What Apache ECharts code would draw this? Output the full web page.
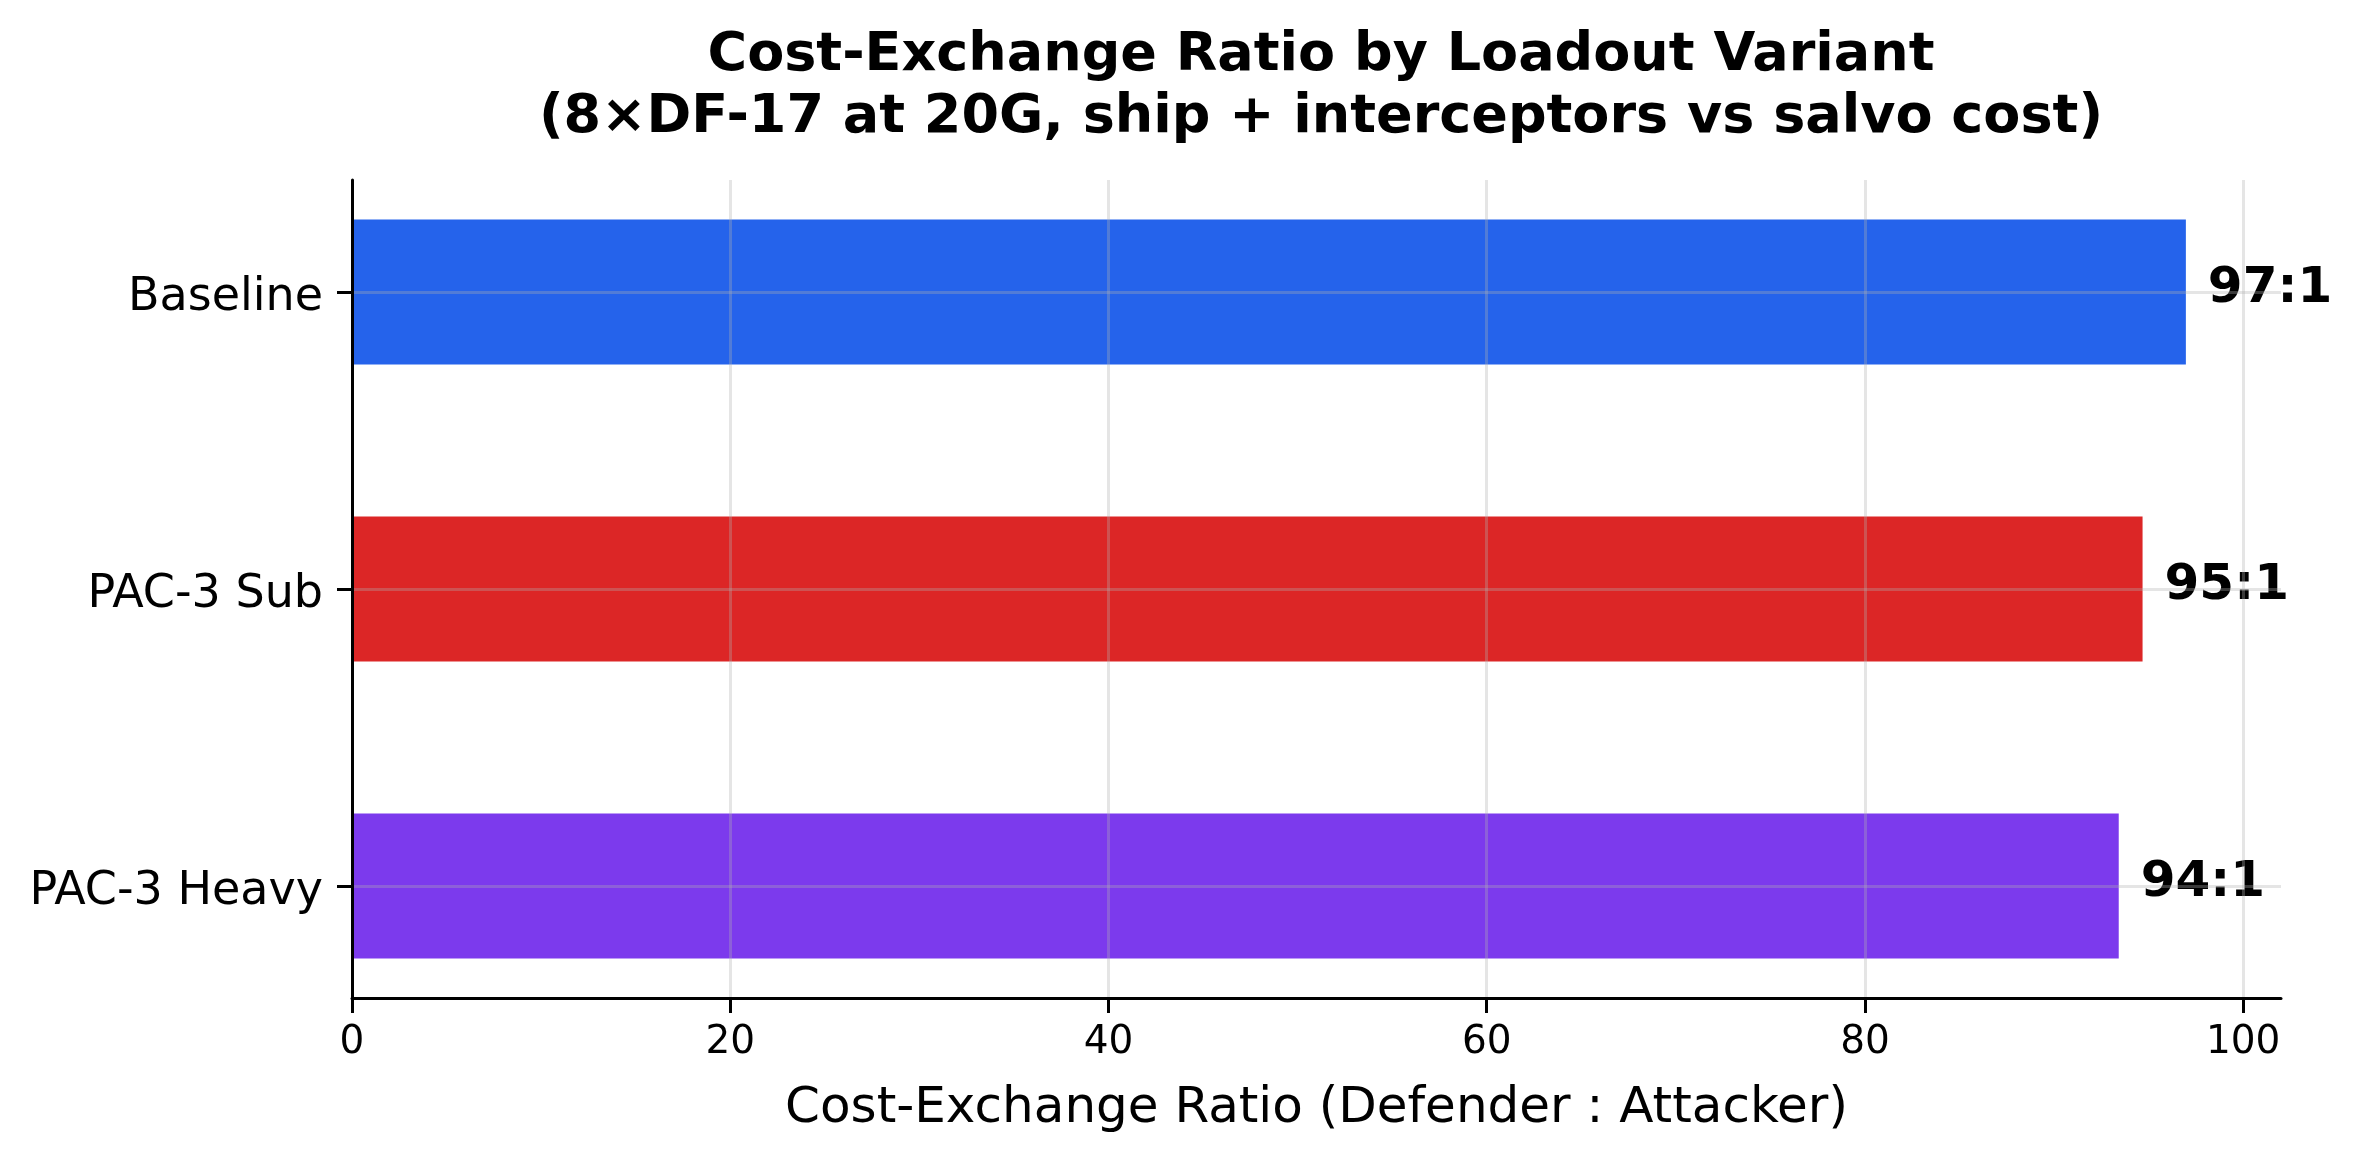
<!DOCTYPE html>
<html>
<head>
<meta charset="utf-8">
<script src="https://cdn.jsdelivr.net/npm/echarts@6/dist/echarts.min.js"></script>
<style>
html,body{margin:0;padding:0;background:#fff;}
#chart{width:2360px;height:1164px;}
</style>
</head>
<body>
<div id="chart"></div>
<script>
const categories = ['Baseline', 'PAC-3 Sub', 'PAC-3 Heavy'];
const ratioValues = [96.97, 94.68, 93.42];
const ratioLabels = ['97:1', '95:1', '94:1'];
const barColors = ['#2563eb', '#dc2626', '#7c3aed'];
const xTicks = [0, 20, 40, 60, 80, 100];
const titleText = 'Cost-Exchange Ratio by Loadout Variant\n(8×DF-17 at 20G, ship + interceptors vs salvo cost)';
const xAxisTitle = 'Cost-Exchange Ratio (Defender : Attacker)';

const FONT = 'DejaVu Sans';
const GRID_COLOR = 'rgba(176,176,176,0.33)';
const X_MAX = 102;

const chart = echarts.init(document.getElementById('chart'), null, {renderer: 'canvas'});
chart.setOption({
  backgroundColor: '#ffffff',
  animation: false,
  title: {
    text: titleText,
    left: 1316,
    top: 20,
    textAlign: 'center',
    textStyle: {fontFamily: FONT, fontSize: 54, fontWeight: 'bold', color: '#000', lineHeight: 62}
  },
  grid: [
    {left: 352, right: 79, top: 292, bottom: 278, containLabel: false},
    {left: 352, right: 79, top: 180, bottom: 166, containLabel: false},
    {left: 352, right: 79, top: 298, bottom: 272, containLabel: false}
  ],
  xAxis: [
    {gridIndex: 0, type: 'value', min: 0, max: X_MAX, show: false},
    {
      gridIndex: 1, type: 'value', min: 0, max: X_MAX, interval: 20, z: 5,
      axisLine: {show: true, lineStyle: {color: '#000', width: 3}},
      axisTick: {show: true, length: 15, lineStyle: {color: '#000', width: 3}, customValues: xTicks},
      axisLabel: {show: true, customValues: xTicks, margin: 25, fontFamily: FONT, fontSize: 39, color: '#000'},
      splitLine: {show: true, lineStyle: {color: [GRID_COLOR, GRID_COLOR, GRID_COLOR, GRID_COLOR, GRID_COLOR, GRID_COLOR, 'rgba(0,0,0,0)'], width: 3}},
      name: xAxisTitle,
      nameLocation: 'middle',
      nameGap: 86,
      nameTextStyle: {fontFamily: FONT, fontSize: 50, color: '#000'}
    },
    {gridIndex: 2, type: 'value', min: 0, max: X_MAX, show: false}
  ],
  yAxis: [
    {
      gridIndex: 0, type: 'category', data: categories, inverse: true, boundaryGap: false, z: 5,
      axisLine: {show: false},
      axisTick: {show: true, length: 15, interval: 0, lineStyle: {color: '#000', width: 3}},
      axisLabel: {show: false},
      splitLine: {show: true, interval: 0, lineStyle: {color: GRID_COLOR, width: 3}}
    },
    {
      gridIndex: 1, type: 'value', min: 0, max: 1, z: 6,
      axisLine: {show: true, onZero: false, lineStyle: {color: '#000', width: 3}},
      axisTick: {show: false},
      axisLabel: {show: false},
      splitLine: {show: false}
    },
    {
      gridIndex: 2, type: 'category', data: categories, inverse: true, boundaryGap: false, z: 5,
      axisLine: {show: false},
      axisTick: {show: false},
      axisLabel: {show: true, interval: 0, margin: 29, fontFamily: FONT, fontSize: 46, color: '#000'},
      splitLine: {show: false}
    }
  ],
  series: [{
    type: 'bar',
    xAxisIndex: 0,
    yAxisIndex: 0,
    barWidth: 145,
    data: ratioValues.map((v, i) => ({value: v, itemStyle: {color: barColors[i]}})),
    label: {
      show: true,
      position: 'right',
      distance: 22,
      offset: [0, -3],
      formatter: (p) => ratioLabels[p.dataIndex],
      fontFamily: FONT,
      fontSize: 50,
      fontWeight: 'bold',
      color: '#000'
    }
  }]
});
</script>
</body>
</html>
